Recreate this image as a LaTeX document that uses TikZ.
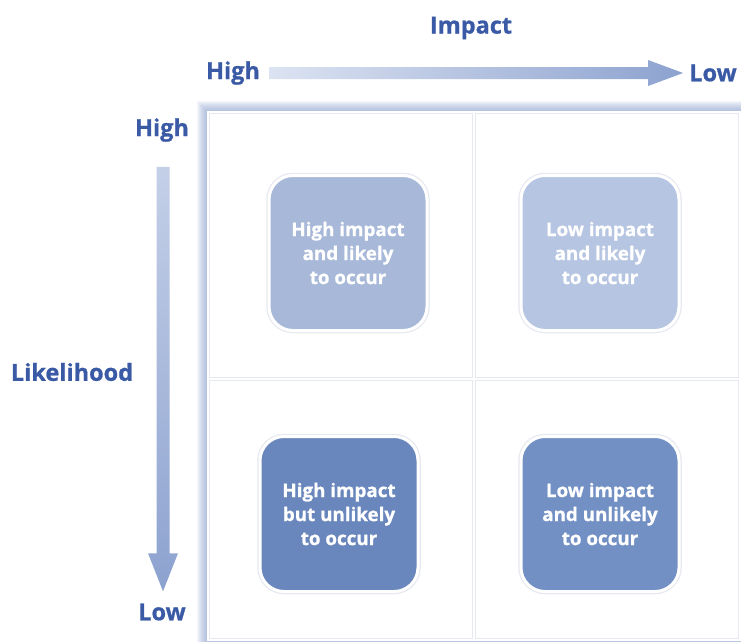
\documentclass[tikz,border=0pt]{standalone}
\usepackage{fontspec}
\setmainfont{Open Sans}[BoldFeatures={FakeBold=0.8}]
\usetikzlibrary{calc}
\definecolor{labelblue}{HTML}{3A5AA6}
\definecolor{gridline}{HTML}{E6E9EF}
\definecolor{glow}{HTML}{8EA4D2}
\definecolor{qTL}{HTML}{A7B8D8}
\definecolor{qTR}{HTML}{B6C5E1}
\definecolor{qBL}{HTML}{6A87BD}
\definecolor{qBR}{HTML}{7290C4}
\definecolor{arrLight}{HTML}{DCE3F2}
\definecolor{arrDark}{HTML}{8CA2CF}
\tikzset{
  axislabel/.style={text=labelblue, font=\fontsize{23.5}{26}\selectfont\bfseries, inner sep=0pt},
  cell/.style={draw=gridline, line width=0.8pt},
  quad/.style={rounded corners=24pt, minimum width=158pt, minimum height=155pt,
    text=white, align=center, font=\fontsize{18.8}{24}\selectfont\bfseries,
    draw=white, line width=3pt,
    preaction={draw=gridline, line width=5.5pt}},
}
\begin{document}
\begin{tikzpicture}[x=1pt,y=-1pt]
\useasboundingbox (0,0) rectangle (741,641);
\fill[white] (0,0) rectangle (741,641);

% soft blue glow along the top and left of the matrix frame
\foreach \k in {1,...,10}
  \fill[glow, opacity=0.09] (207-\k,111-\k) rectangle (745,645);
\fill[white] (207,111) rectangle (741,641);

% the four cells
\draw[cell] (209,113) rectangle (472,377);
\draw[cell] (475,113) rectangle (738,377);
\draw[cell] (209,380) rectangle (472,638);
\draw[cell] (475,380) rectangle (738,638);

% quadrant boxes
\node[quad, fill=qTL] (tl) at (348,253) {High impact\\and likely\\to occur};
\node[quad, fill=qTR] (tr) at (600,253) {Low impact\\and likely\\to occur};
\node[quad, fill=qBL] (bl) at (339,514) {High impact\\but unlikely\\to occur};
\node[quad, fill=qBR] (br) at (600,514) {Low impact\\and unlikely\\to occur};

% axis labels
\node[axislabel] (impact) at (471,28) {Impact};
\node[axislabel] (ihigh) at (233,73) {High};
\node[axislabel] (ilow) at (713,73) {Low};
\node[axislabel] (lhigh) at (162,130) {High};
\node[axislabel] (lik) at (72,372) {Likelihood};
\node[axislabel] (llow) at (162,612) {Low};

% impact arrow, High to Low
\coordinate (hs) at ($(ihigh.east)+(9,0)$);
\coordinate (he) at ($(ilow.west)+(-6,0)$);
\path[left color=arrLight, right color=arrDark]
  ($(hs)+(0,-6)$) -- ($(he)+(-35,-6)$) -- ($(he)+(-35,-13)$) -- (he)
  -- ($(he)+(-35,13)$) -- ($(he)+(-35,6)$) -- ($(hs)+(0,6)$) -- cycle;

% likelihood arrow, High to Low
\coordinate (vs) at ($(lhigh.south)+(1,25)$);
\coordinate (ve) at ($(llow.north)+(1,-12)$);
\path[top color=arrLight!70!arrDark, bottom color=arrDark]
  ($(vs)+(-6.5,0)$) -- ($(ve)+(-6.5,-38)$) -- ($(ve)+(-15,-38)$) -- (ve)
  -- ($(ve)+(15,-38)$) -- ($(ve)+(6.5,-38)$) -- ($(vs)+(6.5,0)$) -- cycle;
\end{tikzpicture}
\end{document}
